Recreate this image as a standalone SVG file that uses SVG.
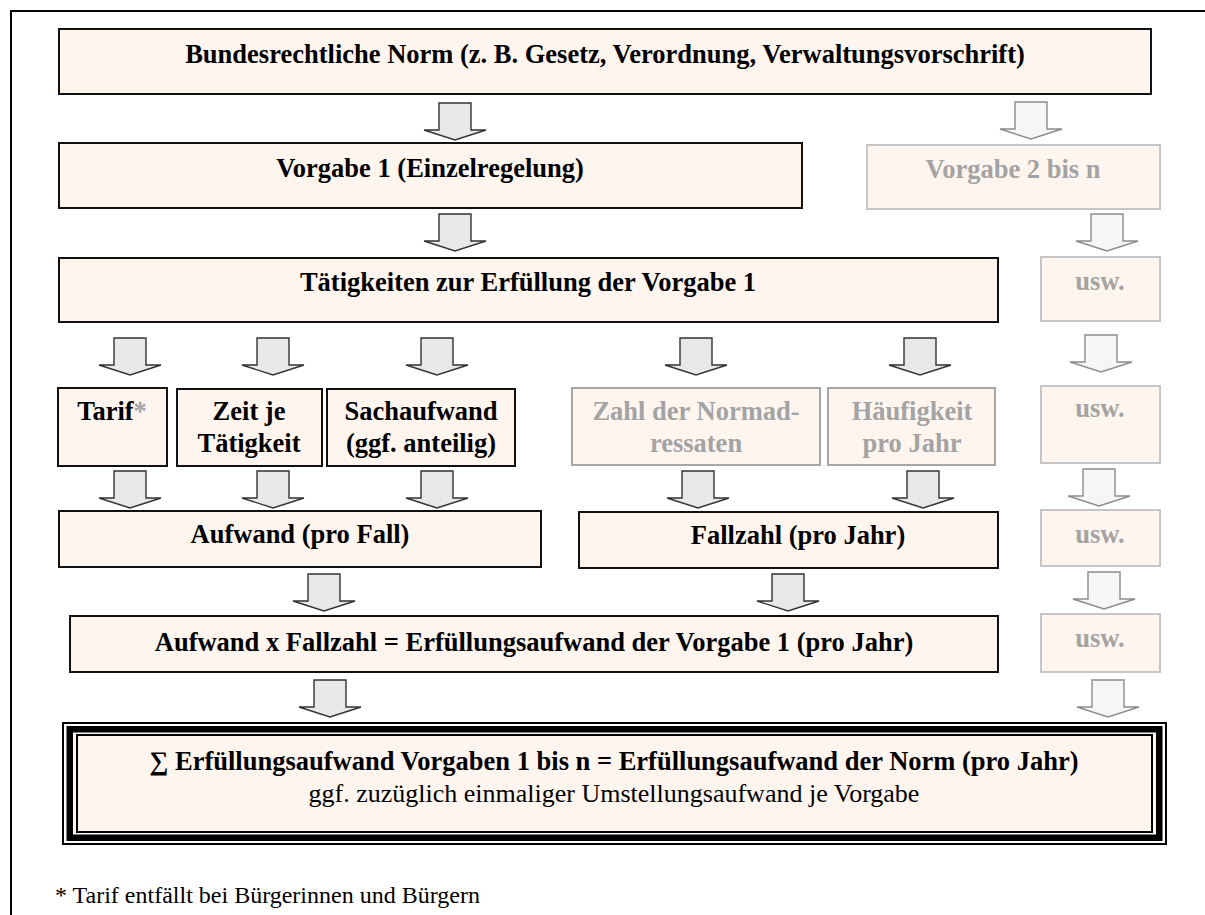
<svg xmlns="http://www.w3.org/2000/svg" xmlns:xlink="http://www.w3.org/1999/xlink" width="1205" height="915" viewBox="0 0 1205 915">
<style>
.box{fill:#FEF5EF;stroke:#111;stroke-width:2}
.gbox{fill:#FEF5EF;stroke:#c6c6c6;stroke-width:2}
.mbox{fill:#FEF5EF;stroke:#a6a6a6;stroke-width:2}
.t{font-family:"Liberation Serif","Times New Roman",serif;font-weight:bold;font-size:26.5px;fill:#000;text-anchor:middle}
.g{fill:#a3a3a3}
.n{font-family:"Liberation Serif","Times New Roman",serif;font-weight:normal;font-size:26px;fill:#000;text-anchor:middle}
.foot{font-family:"Liberation Serif","Times New Roman",serif;font-size:24px;fill:#000}
.a{fill:#e8e8e8;stroke:#333;stroke-width:1.4;stroke-linejoin:miter}
.ga{fill:#f6f6f6;stroke:#8c8c8c;stroke-width:1.4;stroke-linejoin:miter}
</style>
<defs>
<path id="arr" d="M-16,0 H16 V27 H31 L0,37 L-31,27 H-16 Z"/>
</defs>
<rect x="0" y="0" width="1205" height="915" fill="#fff"/>
<path d="M11,915 V11 H1205" fill="none" stroke="#000" stroke-width="2"/>

<g id="connectors">
<use xlink:href="#arr" x="455" y="103" class="a"/>
<use xlink:href="#arr" x="1031" y="102" class="ga"/>
<use xlink:href="#arr" x="455" y="214" class="a"/>
<use xlink:href="#arr" x="1107" y="214" class="ga"/>
<use xlink:href="#arr" x="130" y="338" class="a"/>
<use xlink:href="#arr" x="273" y="338" class="a"/>
<use xlink:href="#arr" x="437" y="338" class="a"/>
<use xlink:href="#arr" x="696" y="338" class="a"/>
<use xlink:href="#arr" x="920" y="338" class="a"/>
<use xlink:href="#arr" x="1101" y="335" class="ga"/>
<use xlink:href="#arr" x="130" y="471" class="a"/>
<use xlink:href="#arr" x="273" y="471" class="a"/>
<use xlink:href="#arr" x="437" y="471" class="a"/>
<use xlink:href="#arr" x="698" y="471" class="a"/>
<use xlink:href="#arr" x="923" y="471" class="a"/>
<use xlink:href="#arr" x="1099" y="469" class="ga"/>
<use xlink:href="#arr" x="324" y="574" class="a"/>
<use xlink:href="#arr" x="788" y="574" class="a"/>
<use xlink:href="#arr" x="1104" y="572" class="ga"/>
<use xlink:href="#arr" x="330" y="680" class="a"/>
<use xlink:href="#arr" x="1108" y="680" class="ga"/>
</g>

<g id="norm">
<rect class="box" x="59" y="29" width="1092" height="65"/>
<text class="t" x="605" y="63">Bundesrechtliche Norm (z. B. Gesetz, Verordnung, Verwaltungsvorschrift)</text>
</g>
<g id="vorgabe1">
<rect class="box" x="59" y="143" width="743" height="65"/>
<text class="t" x="430" y="177">Vorgabe 1 (Einzelregelung)</text>
</g>
<g id="vorgabe2">
<rect class="gbox" x="867" y="145" width="293" height="64"/>
<text class="t g" x="1013" y="178">Vorgabe 2 bis n</text>
</g>
<g id="taetigkeiten">
<rect class="box" x="59" y="258" width="939" height="64"/>
<text class="t" x="528" y="291">Tätigkeiten zur Erfüllung der Vorgabe 1</text>
</g>
<g id="usw1">
<rect class="gbox" x="1041" y="257" width="119" height="64"/>
<text class="t g" x="1100" y="290">usw.</text>
</g>
<g id="tarif">
<rect class="box" x="58" y="388" width="109" height="78"/>
<text class="t" x="112" y="420">Tarif<tspan class="g">*</tspan></text>
</g>
<g id="zeit">
<rect class="box" x="177" y="389" width="145" height="77"/>
<text class="t" x="249" y="420">Zeit je</text>
<text class="t" x="249" y="452">Tätigkeit</text>
</g>
<g id="sachaufwand">
<rect class="box" x="327" y="389" width="188" height="77"/>
<text class="t" x="421" y="420">Sachaufwand</text>
<text class="t" x="421" y="452">(ggf. anteilig)</text>
</g>
<g id="normadressaten">
<rect class="mbox" x="572" y="388" width="248" height="77"/>
<text class="t g" x="696" y="420">Zahl der Normad-</text>
<text class="t g" x="696" y="452">ressaten</text>
</g>
<g id="haeufigkeit">
<rect class="mbox" x="828" y="388" width="167" height="77"/>
<text class="t g" x="912" y="420">Häufigkeit</text>
<text class="t g" x="912" y="452">pro Jahr</text>
</g>
<g id="usw2">
<rect class="gbox" x="1041" y="386" width="119" height="77"/>
<text class="t g" x="1100" y="417">usw.</text>
</g>
<g id="aufwand">
<rect class="box" x="59" y="511" width="482" height="56"/>
<text class="t" x="300" y="543">Aufwand (pro Fall)</text>
</g>
<g id="fallzahl">
<rect class="box" x="579" y="512" width="419" height="56"/>
<text class="t" x="798" y="544">Fallzahl (pro Jahr)</text>
</g>
<g id="usw3">
<rect class="gbox" x="1041" y="510" width="119" height="56"/>
<text class="t g" x="1100" y="543">usw.</text>
</g>
<g id="produkt">
<rect class="box" x="70" y="616" width="928" height="56"/>
<text class="t" x="534" y="651">Aufwand x Fallzahl = Erfüllungsaufwand der Vorgabe 1 (pro Jahr)</text>
</g>
<g id="usw4">
<rect class="gbox" x="1041" y="614" width="119" height="58"/>
<text class="t g" x="1100" y="647">usw.</text>
</g>
<g id="summe">
<rect x="62" y="722" width="1105" height="123" fill="#000"/>
<rect x="64" y="724" width="1101" height="119" fill="#fff"/>
<rect x="66.5" y="726" width="1096" height="115" fill="#000"/>
<rect x="73" y="732.5" width="1083" height="102" fill="#FEF5EF"/>
<rect x="77" y="735" width="1075" height="97" fill="#FEF5EF" stroke="#000" stroke-width="2"/>
<text class="t" x="614" y="770">∑ Erfüllungsaufwand Vorgaben 1 bis n = Erfüllungsaufwand der Norm (pro Jahr)</text>
<text class="n" x="614" y="802">ggf. zuzüglich einmaliger Umstellungsaufwand je Vorgabe</text>
</g>
<g id="fussnote">
<text class="foot" x="55" y="903">* Tarif entfällt bei Bürgerinnen und Bürgern</text>
</g>
</svg>
